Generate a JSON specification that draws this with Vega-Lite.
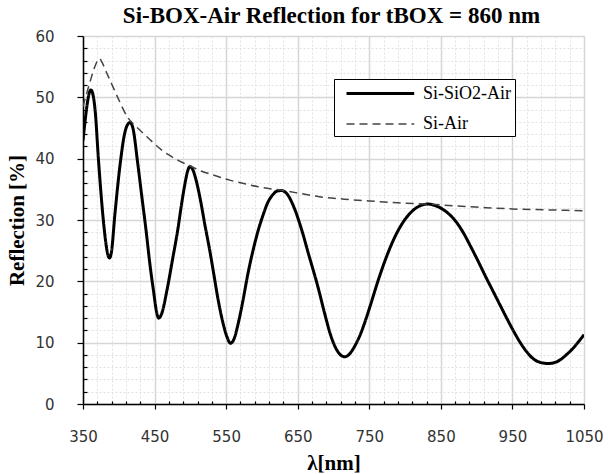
{
  "$schema": "https://vega.github.io/schema/vega-lite/v6.json",
  "width": 501,
  "height": 368,
  "autosize": {"type": "none"},
  "padding": {"left": 83, "top": 36, "right": 24, "bottom": 70},
  "background": "white",
  "title": {
    "text": "Si-BOX-Air Reflection for tBOX = 860 nm",
    "font": "'Liberation Serif', 'Times New Roman', 'DejaVu Serif', serif",
    "fontSize": 23,
    "fontWeight": "bold",
    "color": "black",
    "anchor": "middle",
    "frame": "group",
    "offset": 1,
    "dx": -2
  },
  "config": {
    "view": {"stroke": null},
    "axis": {
      "labelFont": "DejaVu Sans",
      "labelFontSize": 15,
      "labelColor": "#333",
      "titleFont": "'Liberation Serif', 'Times New Roman', 'DejaVu Serif', serif",
      "titleFontSize": 21,
      "titleFontWeight": "bold",
      "titleColor": "black",
      "domainColor": "black",
      "domainWidth": 1.5,
      "tickColor": "black",
      "tickWidth": 1.2
    }
  },
  "data": {
    "values": [
      {"l": 350, "r": 43.0, "s": "Si-SiO2-Air"},
      {"l": 353, "r": 46.2, "s": "Si-SiO2-Air"},
      {"l": 356, "r": 49.0, "s": "Si-SiO2-Air"},
      {"l": 358.5, "r": 50.6, "s": "Si-SiO2-Air"},
      {"l": 361, "r": 51.2, "s": "Si-SiO2-Air"},
      {"l": 364, "r": 50.4, "s": "Si-SiO2-Air"},
      {"l": 367, "r": 47.8, "s": "Si-SiO2-Air"},
      {"l": 371.5, "r": 40.0, "s": "Si-SiO2-Air"},
      {"l": 377.5, "r": 31.1, "s": "Si-SiO2-Air"},
      {"l": 382, "r": 26.2, "s": "Si-SiO2-Air"},
      {"l": 385, "r": 24.2, "s": "Si-SiO2-Air"},
      {"l": 387, "r": 23.8, "s": "Si-SiO2-Air"},
      {"l": 389.5, "r": 24.6, "s": "Si-SiO2-Air"},
      {"l": 394.7, "r": 31.1, "s": "Si-SiO2-Air"},
      {"l": 402, "r": 39.2, "s": "Si-SiO2-Air"},
      {"l": 408, "r": 44.0, "s": "Si-SiO2-Air"},
      {"l": 412, "r": 45.5, "s": "Si-SiO2-Air"},
      {"l": 415.7, "r": 45.9, "s": "Si-SiO2-Air"},
      {"l": 419.5, "r": 45.1, "s": "Si-SiO2-Air"},
      {"l": 426.5, "r": 39.2, "s": "Si-SiO2-Air"},
      {"l": 432, "r": 34.0, "s": "Si-SiO2-Air"},
      {"l": 438, "r": 28.4, "s": "Si-SiO2-Air"},
      {"l": 444, "r": 22.3, "s": "Si-SiO2-Air"},
      {"l": 448.8, "r": 18.2, "s": "Si-SiO2-Air"},
      {"l": 452.5, "r": 15.2, "s": "Si-SiO2-Air"},
      {"l": 455.8, "r": 14.0, "s": "Si-SiO2-Air"},
      {"l": 459.5, "r": 14.6, "s": "Si-SiO2-Air"},
      {"l": 467.4, "r": 18.6, "s": "Si-SiO2-Air"},
      {"l": 475, "r": 23.5, "s": "Si-SiO2-Air"},
      {"l": 482.4, "r": 28.4, "s": "Si-SiO2-Air"},
      {"l": 488, "r": 32.8, "s": "Si-SiO2-Air"},
      {"l": 492.6, "r": 36.0, "s": "Si-SiO2-Air"},
      {"l": 496, "r": 37.9, "s": "Si-SiO2-Air"},
      {"l": 499.2, "r": 38.7, "s": "Si-SiO2-Air"},
      {"l": 503, "r": 38.3, "s": "Si-SiO2-Air"},
      {"l": 508, "r": 36.5, "s": "Si-SiO2-Air"},
      {"l": 514, "r": 33.3, "s": "Si-SiO2-Air"},
      {"l": 520, "r": 29.4, "s": "Si-SiO2-Air"},
      {"l": 527, "r": 25.1, "s": "Si-SiO2-Air"},
      {"l": 533, "r": 21.0, "s": "Si-SiO2-Air"},
      {"l": 538.8, "r": 17.0, "s": "Si-SiO2-Air"},
      {"l": 545, "r": 13.5, "s": "Si-SiO2-Air"},
      {"l": 551, "r": 11.0, "s": "Si-SiO2-Air"},
      {"l": 556, "r": 9.9, "s": "Si-SiO2-Air"},
      {"l": 561, "r": 10.6, "s": "Si-SiO2-Air"},
      {"l": 567, "r": 13.2, "s": "Si-SiO2-Air"},
      {"l": 573.7, "r": 17.0, "s": "Si-SiO2-Air"},
      {"l": 580, "r": 21.0, "s": "Si-SiO2-Air"},
      {"l": 587.7, "r": 25.1, "s": "Si-SiO2-Air"},
      {"l": 595, "r": 28.4, "s": "Si-SiO2-Air"},
      {"l": 601.6, "r": 30.8, "s": "Si-SiO2-Air"},
      {"l": 608, "r": 32.8, "s": "Si-SiO2-Air"},
      {"l": 615, "r": 34.1, "s": "Si-SiO2-Air"},
      {"l": 621, "r": 34.7, "s": "Si-SiO2-Air"},
      {"l": 627.4, "r": 34.8, "s": "Si-SiO2-Air"},
      {"l": 634, "r": 34.4, "s": "Si-SiO2-Air"},
      {"l": 645, "r": 32.0, "s": "Si-SiO2-Air"},
      {"l": 655, "r": 28.6, "s": "Si-SiO2-Air"},
      {"l": 665, "r": 24.5, "s": "Si-SiO2-Air"},
      {"l": 678, "r": 19.2, "s": "Si-SiO2-Air"},
      {"l": 688, "r": 14.6, "s": "Si-SiO2-Air"},
      {"l": 695, "r": 11.6, "s": "Si-SiO2-Air"},
      {"l": 702, "r": 9.4, "s": "Si-SiO2-Air"},
      {"l": 709, "r": 8.1, "s": "Si-SiO2-Air"},
      {"l": 716, "r": 7.7, "s": "Si-SiO2-Air"},
      {"l": 722, "r": 8.1, "s": "Si-SiO2-Air"},
      {"l": 729, "r": 9.3, "s": "Si-SiO2-Air"},
      {"l": 737, "r": 11.2, "s": "Si-SiO2-Air"},
      {"l": 744, "r": 13.4, "s": "Si-SiO2-Air"},
      {"l": 751, "r": 15.9, "s": "Si-SiO2-Air"},
      {"l": 762, "r": 20.0, "s": "Si-SiO2-Air"},
      {"l": 774, "r": 24.0, "s": "Si-SiO2-Air"},
      {"l": 786, "r": 27.3, "s": "Si-SiO2-Air"},
      {"l": 797, "r": 29.6, "s": "Si-SiO2-Air"},
      {"l": 807, "r": 31.1, "s": "Si-SiO2-Air"},
      {"l": 816, "r": 32.0, "s": "Si-SiO2-Air"},
      {"l": 824, "r": 32.45, "s": "Si-SiO2-Air"},
      {"l": 832, "r": 32.6, "s": "Si-SiO2-Air"},
      {"l": 842, "r": 32.35, "s": "Si-SiO2-Air"},
      {"l": 852, "r": 31.8, "s": "Si-SiO2-Air"},
      {"l": 862, "r": 30.9, "s": "Si-SiO2-Air"},
      {"l": 872, "r": 29.6, "s": "Si-SiO2-Air"},
      {"l": 882, "r": 27.8, "s": "Si-SiO2-Air"},
      {"l": 892, "r": 25.6, "s": "Si-SiO2-Air"},
      {"l": 902, "r": 23.3, "s": "Si-SiO2-Air"},
      {"l": 912, "r": 20.9, "s": "Si-SiO2-Air"},
      {"l": 922, "r": 18.6, "s": "Si-SiO2-Air"},
      {"l": 932, "r": 16.3, "s": "Si-SiO2-Air"},
      {"l": 942, "r": 14.0, "s": "Si-SiO2-Air"},
      {"l": 952, "r": 11.8, "s": "Si-SiO2-Air"},
      {"l": 961, "r": 10.0, "s": "Si-SiO2-Air"},
      {"l": 970, "r": 8.5, "s": "Si-SiO2-Air"},
      {"l": 980, "r": 7.3, "s": "Si-SiO2-Air"},
      {"l": 990, "r": 6.75, "s": "Si-SiO2-Air"},
      {"l": 1000, "r": 6.6, "s": "Si-SiO2-Air"},
      {"l": 1010, "r": 6.8, "s": "Si-SiO2-Air"},
      {"l": 1018, "r": 7.3, "s": "Si-SiO2-Air"},
      {"l": 1026, "r": 8.1, "s": "Si-SiO2-Air"},
      {"l": 1034, "r": 9.0, "s": "Si-SiO2-Air"},
      {"l": 1042, "r": 10.1, "s": "Si-SiO2-Air"},
      {"l": 1050, "r": 11.3, "s": "Si-SiO2-Air"},
      {"l": 350, "r": 48.5, "s": "Si-Air"},
      {"l": 355, "r": 50.6, "s": "Si-Air"},
      {"l": 360, "r": 52.6, "s": "Si-Air"},
      {"l": 365, "r": 54.5, "s": "Si-Air"},
      {"l": 370, "r": 55.9, "s": "Si-Air"},
      {"l": 373, "r": 56.3, "s": "Si-Air"},
      {"l": 377, "r": 55.6, "s": "Si-Air"},
      {"l": 383, "r": 54.0, "s": "Si-Air"},
      {"l": 390, "r": 52.2, "s": "Si-Air"},
      {"l": 400, "r": 49.6, "s": "Si-Air"},
      {"l": 412, "r": 46.8, "s": "Si-Air"},
      {"l": 420, "r": 45.7, "s": "Si-Air"},
      {"l": 430, "r": 44.6, "s": "Si-Air"},
      {"l": 440, "r": 43.5, "s": "Si-Air"},
      {"l": 450, "r": 42.4, "s": "Si-Air"},
      {"l": 460, "r": 41.4, "s": "Si-Air"},
      {"l": 470, "r": 40.6, "s": "Si-Air"},
      {"l": 485, "r": 39.6, "s": "Si-Air"},
      {"l": 500, "r": 38.8, "s": "Si-Air"},
      {"l": 515, "r": 38.0, "s": "Si-Air"},
      {"l": 530, "r": 37.4, "s": "Si-Air"},
      {"l": 555, "r": 36.5, "s": "Si-Air"},
      {"l": 580, "r": 35.8, "s": "Si-Air"},
      {"l": 600, "r": 35.3, "s": "Si-Air"},
      {"l": 627, "r": 34.85, "s": "Si-Air"},
      {"l": 655, "r": 34.3, "s": "Si-Air"},
      {"l": 680, "r": 33.8, "s": "Si-Air"},
      {"l": 715, "r": 33.4, "s": "Si-Air"},
      {"l": 750, "r": 33.1, "s": "Si-Air"},
      {"l": 790, "r": 32.8, "s": "Si-Air"},
      {"l": 832, "r": 32.6, "s": "Si-Air"},
      {"l": 870, "r": 32.3, "s": "Si-Air"},
      {"l": 900, "r": 32.1, "s": "Si-Air"},
      {"l": 950, "r": 31.8, "s": "Si-Air"},
      {"l": 1000, "r": 31.65, "s": "Si-Air"},
      {"l": 1050, "r": 31.5, "s": "Si-Air"}
    ]
  },
  "mark": {"type": "line", "interpolate": "monotone", "clip": true},
  "encoding": {
    "x": {
      "field": "l",
      "type": "quantitative",
      "scale": {"domain": [350, 1050], "nice": false, "zero": false},
      "axis": {
        "title": "λ[nm]",
        "titlePadding": 8,
        "format": "d",
        "values": [350,370,390,410,430,450,470,490,510,530,550,570,590,610,630,650,670,690,710,730,750,770,790,810,830,850,870,890,910,930,950,970,990,1010,1030,1050],
        "labelExpr": "(datum.value - 350) % 100 === 0 ? datum.label : ''",
        "labelPadding": 20,
        "labelFlush": false,
        "labelOverlap": false,
        "grid": true,
        "gridColor": {"condition": {"test": "(datum.value - 350) % 100 === 0", "value": "#d6d6d6"}, "value": "#e2e2e2"},
        "gridDash": {"condition": {"test": "(datum.value - 350) % 100 === 0", "value": []}, "value": [2, 2]},
        "gridWidth": {"condition": {"test": "(datum.value - 350) % 100 === 0", "value": 1.5}, "value": 1},
        "tickSize": {"condition": {"test": "(datum.value - 350) % 100 === 0", "value": 5}, "value": -3}
      }
    },
    "y": {
      "field": "r",
      "type": "quantitative",
      "scale": {"domain": [0, 60], "nice": false},
      "axis": {
        "title": "Reflection [%]",
        "titlePadding": 7,
        "values": [0,2,4,6,8,10,12,14,16,18,20,22,24,26,28,30,32,34,36,38,40,42,44,46,48,50,52,54,56,58,60],
        "labelExpr": "datum.value % 10 === 0 ? datum.label : ''",
        "labelPadding": 23,
        "labelOverlap": false,
        "labelFlush": false,
        "grid": true,
        "gridColor": {"condition": {"test": "datum.value % 10 === 0", "value": "#d6d6d6"}, "value": "#e2e2e2"},
        "gridDash": {"condition": {"test": "datum.value % 10 === 0", "value": []}, "value": [2, 2]},
        "gridWidth": {"condition": {"test": "datum.value % 10 === 0", "value": 1.5}, "value": 1},
        "tickSize": {"condition": {"test": "datum.value % 10 === 0", "value": 6}, "value": -4}
      }
    },
    "strokeDash": {
      "field": "s",
      "type": "nominal",
      "scale": {"domain": ["Si-SiO2-Air", "Si-Air"], "range": [[1, 0], [8, 5]]},
      "legend": {
        "title": null,
        "orient": "none",
        "legendX": 251,
        "legendY": 43,
        "padding": 3,
        "strokeColor": "black",
        "fillColor": "white",
        "symbolType": "M-0.2,0H6.57",
        "symbolSize": 400,
        "labelFont": "'Liberation Serif', 'Times New Roman', 'DejaVu Serif', serif",
        "labelFontSize": 18,
        "labelColor": "black",
        "labelOffset": 63,
        "rowPadding": 10
      }
    },
    "color": {
      "field": "s",
      "type": "nominal",
      "scale": {"domain": ["Si-SiO2-Air", "Si-Air"], "range": ["#000000", "#444444"]}
    },
    "strokeWidth": {
      "field": "s",
      "type": "nominal",
      "scale": {"type": "ordinal", "domain": ["Si-SiO2-Air", "Si-Air"], "range": [3, 1.5]}
    }
  }
}
